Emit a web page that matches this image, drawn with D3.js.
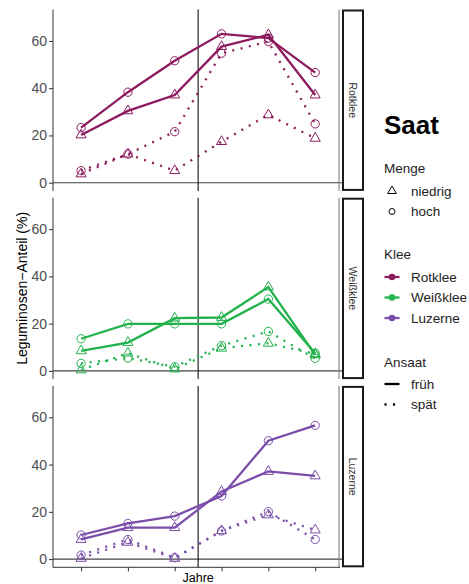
<!DOCTYPE html>
<html lang="de">
<head>
<meta charset="UTF-8">
<title>Saat</title>
<script src="https://cdn.jsdelivr.net/npm/d3@7/dist/d3.min.js"></script>
<style>
  body { margin: 0; background: #fff; }
  text { font-family: "Liberation Sans", Arial, sans-serif; }
</style>
</head>
<body>
<svg id="mainsvg" width="469" height="584"></svg>
<script>
// Daten (Leguminosen-Anteil in %)
const jahre = [1, 2, 3, 4, 5, 6]
const kleeArten = ['Rotklee', 'Weißklee', 'Luzerne']
const kleeFarben = ['#8c1b5e', '#22b24c', '#7b4ea9']
const yTicks = [0, 20, 40, 60]

const rotFruehHoch    = [23.3, 38.3, 51.6, 63.0, 61.2, 46.6]
const rotFruehNiedrig = [20.2, 30.4, 37.1, 57.6, 62.6, 37.1]
const rotSpaetHoch    = [5.1, 12.1, 21.6, 54.8, 59.7, 24.9]
const rotSpaetNiedrig = [3.7, 12.1, 5.1, 17.4, 28.7, 18.8]

const weissFruehHoch    = [13.6, 19.9, 19.9, 19.9, 30.4, 7.5]
const weissFruehNiedrig = [8.5, 12.0, 22.3, 22.6, 35.5, 6.8]
const weissSpaetHoch    = [3.2, 5.4, 1.8, 10.7, 16.7, 5.3]
const weissSpaetNiedrig = [0.4, 7.5, 0.8, 9.6, 11.7, 7.2]

const luzFruehHoch    = [10.2, 15.1, 18.2, 26.7, 50.1, 56.6]
const luzFruehNiedrig = [8.3, 13.3, 13.3, 28.6, 37.1, 35.2]
const luzSpaetHoch    = [1.7, 8.3, 0.6, 11.9, 20.1, 8.3]
const luzSpaetNiedrig = [0.3, 7.1, 0.3, 12.0, 18.7, 12.3]

const serien = [
  {klee: 'Rotklee', ansaat: 'früh', menge: 'hoch', werte: rotFruehHoch},
  {klee: 'Rotklee', ansaat: 'früh', menge: 'niedrig', werte: rotFruehNiedrig},
  {klee: 'Rotklee', ansaat: 'spät', menge: 'hoch', werte: rotSpaetHoch},
  {klee: 'Rotklee', ansaat: 'spät', menge: 'niedrig', werte: rotSpaetNiedrig},
  {klee: 'Weißklee', ansaat: 'früh', menge: 'hoch', werte: weissFruehHoch},
  {klee: 'Weißklee', ansaat: 'früh', menge: 'niedrig', werte: weissFruehNiedrig},
  {klee: 'Weißklee', ansaat: 'spät', menge: 'hoch', werte: weissSpaetHoch},
  {klee: 'Weißklee', ansaat: 'spät', menge: 'niedrig', werte: weissSpaetNiedrig},
  {klee: 'Luzerne', ansaat: 'früh', menge: 'hoch', werte: luzFruehHoch},
  {klee: 'Luzerne', ansaat: 'früh', menge: 'niedrig', werte: luzFruehNiedrig},
  {klee: 'Luzerne', ansaat: 'spät', menge: 'hoch', werte: luzSpaetHoch},
  {klee: 'Luzerne', ansaat: 'spät', menge: 'niedrig', werte: luzSpaetNiedrig}
]

const svg = d3.select('#mainsvg')
const left = 53, right = 340
const panelTop0 = 9.5, panelH = 181.4, panelGap = 6.8
const stripX = 343, stripW = 20

const color = d3.scaleOrdinal().domain(kleeArten).range(kleeFarben)
const xScale = d3.scaleLinear().domain([0.4, 6.53]).range([left, right])
const dash = {'früh': null, 'spät': '2,6.5'}
const triangle = d3.symbol().type(d3.symbolTriangle).size(44)
const circle = d3.symbol().type(d3.symbolCircle).size(54)
const line = d3.line()

kleeArten.forEach((k, i) => {
  const top = panelTop0 + i * (panelH + panelGap)
  const bottom = top + panelH
  const yScale = d3.scaleLinear().domain([-3.47, 73.3]).range([bottom, top])
  const g = svg.append('g')

  // y-Achse
  const yAxis = d3.axisLeft(yScale).tickValues(yTicks).tickSize(4).tickPadding(2)
  const ya = g.append('g').attr('transform', `translate(${left},0)`).call(yAxis)
  ya.select('.domain').attr('d', `M0,${top}V${bottom}`).attr('stroke', '#333')
  ya.selectAll('.tick line').attr('stroke', '#333')
  ya.selectAll('.tick text').attr('font-size', 14).attr('fill', '#4d4d4d')
    .attr('font-family', '"Liberation Sans", Arial, sans-serif')

  // Hilfslinien
  g.append('line').attr('x1', left).attr('x2', right + 2)
    .attr('y1', yScale(0)).attr('y2', yScale(0))
    .attr('stroke', '#444').attr('stroke-width', 1.1)
  g.append('line').attr('x1', xScale(3.5)).attr('x2', xScale(3.5))
    .attr('y1', top).attr('y2', bottom)
    .attr('stroke', '#111').attr('stroke-width', 1.1)
  g.append('line').attr('x1', right - 1).attr('x2', right - 1)
    .attr('y1', top).attr('y2', bottom)
    .attr('stroke', '#777').attr('stroke-width', 1)

  // x-Achse nur unten
  if (i === kleeArten.length - 1) {
    const xAxis = d3.axisBottom(xScale).tickValues(jahre).tickSize(4).tickFormat('')
    const xa = g.append('g').attr('transform', `translate(0,${bottom})`).call(xAxis)
    xa.select('.domain').attr('d', `M${left},0H${right}`).attr('stroke', '#333')
    xa.selectAll('.tick line').attr('stroke', '#333')
  }

  // Streifen
  g.append('rect').attr('x', stripX).attr('y', top + 1)
    .attr('width', stripW).attr('height', panelH - 2)
    .attr('fill', '#fff').attr('stroke', '#1a1a1a').attr('stroke-width', 2)
  g.append('text').text(k)
    .attr('transform', `translate(${stripX + stripW / 2},${(top + bottom) / 2}) rotate(90)`)
    .attr('text-anchor', 'middle').attr('dy', '0.35em')
    .attr('font-size', 10.5).attr('fill', '#333')

  const data = serien.filter(s => s.klee === k)
  data.forEach(s => {
    g.append('path')
      .attr('d', line(jahre.map((j, n) => [xScale(j), yScale(s.werte[n])])))
      .attr('fill', 'none').attr('stroke', color(k))
      .attr('stroke-width', 2.3)
      .attr('stroke-dasharray', dash[s.ansaat])
  })
  data.forEach(s => {
    jahre.forEach((j, n) => {
      g.append('path')
        .attr('d', s.menge === 'niedrig' ? triangle() : circle())
        .attr('transform', `translate(${xScale(j)},${yScale(s.werte[n])})`)
        .attr('fill', 'none').attr('stroke', color(k)).attr('stroke-width', 1)
    })
  })
})

// Achsentitel
svg.append('text').text('Leguminosen−Anteil (%)')
  .attr('transform', `translate(27,${panelTop0 + 1.5 * panelH + panelGap}) rotate(-90)`)
  .attr('text-anchor', 'middle').attr('font-size', 14).attr('fill', '#000')
svg.append('text').text('Jahre')
  .attr('x', xScale(3.5)).attr('y', 582)
  .attr('text-anchor', 'middle').attr('font-size', 12.5).attr('fill', '#000')

// Legende
const lg = svg.append('g')
const lx = 384, keyX = 392, textX = 411
lg.append('text').text('Saat').attr('x', lx).attr('y', 134)
  .attr('font-size', 26).attr('font-weight', 'bold').attr('fill', '#000')

const mengen = ['niedrig', 'hoch']
lg.append('text').text('Menge').attr('x', lx).attr('y', 173).attr('font-size', 13.5).attr('fill', '#222')
mengen.forEach((m, i) => {
  const y = 191 + i * 20.5
  lg.append('path')
    .attr('d', (m === 'niedrig' ? d3.symbol().type(d3.symbolTriangle).size(32) : d3.symbol().type(d3.symbolCircle).size(28))())
    .attr('transform', `translate(${keyX},${y})`)
    .attr('fill', 'none').attr('stroke', '#000').attr('stroke-width', 1)
  lg.append('text').text(m).attr('x', textX).attr('y', y).attr('dy', '0.35em')
    .attr('font-size', 13.5).attr('fill', '#222')
})

lg.append('text').text('Klee').attr('x', lx).attr('y', 259).attr('font-size', 13.5).attr('fill', '#222')
kleeArten.forEach((k, i) => {
  const y = 277 + i * 20.5
  lg.append('line').attr('x1', keyX - 7.5).attr('x2', keyX + 7.5).attr('y1', y).attr('y2', y)
    .attr('stroke', color(k)).attr('stroke-width', 2.3)
  lg.append('circle').attr('cx', keyX).attr('cy', y).attr('r', 3.3).attr('fill', color(k))
  lg.append('text').text(k).attr('x', textX).attr('y', y).attr('dy', '0.35em')
    .attr('font-size', 13.5).attr('fill', '#222')
})

const ansaaten = ['früh', 'spät']
lg.append('text').text('Ansaat').attr('x', lx).attr('y', 367).attr('font-size', 13.5).attr('fill', '#222')
ansaaten.forEach((a, i) => {
  const y = 384 + i * 20.5
  lg.append('line').attr('x1', keyX - 7.5).attr('x2', keyX + 7.5).attr('y1', y).attr('y2', y)
    .attr('stroke', '#000').attr('stroke-width', 2.3)
    .attr('stroke-dasharray', dash[a] ? '2,6.5' : null)
  lg.append('text').text(a).attr('x', textX).attr('y', y).attr('dy', '0.35em')
    .attr('font-size', 13.5).attr('fill', '#222')
})
</script>
</body>
</html>
